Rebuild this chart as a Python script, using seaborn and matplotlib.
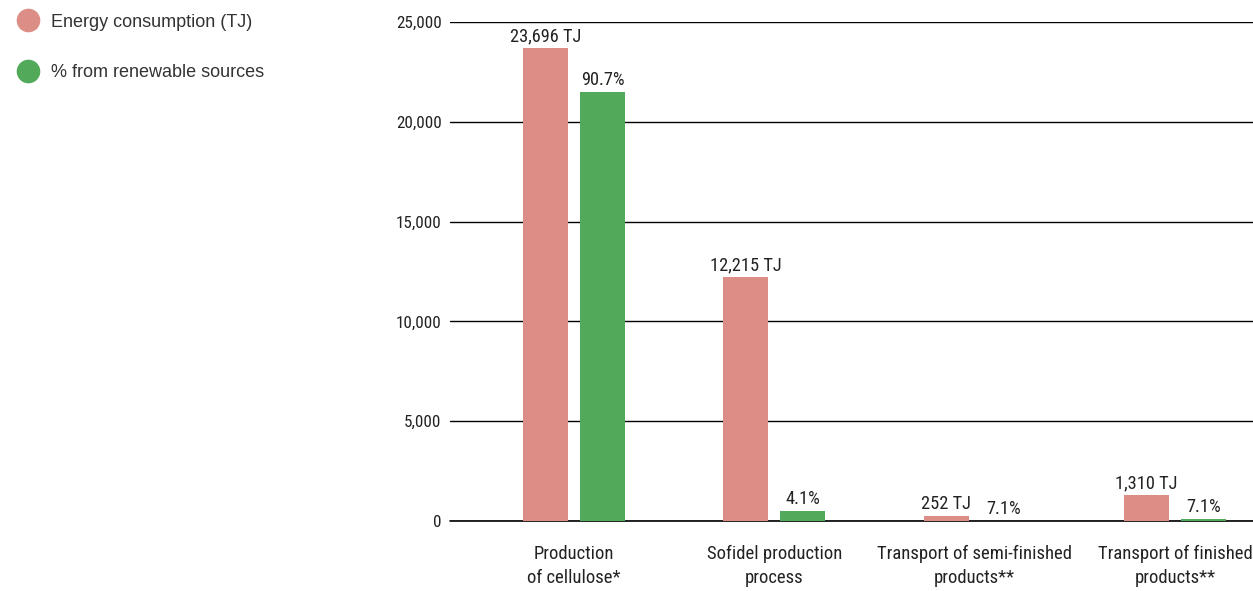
import pandas as pd
import matplotlib.pyplot as plt
from matplotlib.lines import Line2D
import seaborn as sns

# data
categories = ['Production\nof cellulose*', 'Sofidel production\nprocess',
              'Transport of semi-finished\nproducts**', 'Transport of finished\nproducts**']
energy_tj = [23696, 12215, 252, 1310]
renewable_pct = [90.7, 4.1, 7.1, 7.1]
series = ['Energy consumption (TJ)', '% from renewable sources']
colors = ['#DC8E86', '#52A95A']

# green bar = renewable share of the energy consumption
renewable_tj = [e * p / 100 for e, p in zip(energy_tj, renewable_pct)]
df = pd.DataFrame({
    'category': categories * 2,
    'value': energy_tj + renewable_tj,
    'series': [series[0]] * 4 + [series[1]] * 4,
})

sns.set_style('white')
narrow = ['Roboto Condensed', 'Liberation Sans Narrow', 'Roboto', 'DejaVu Sans']
plt.rcParams['font.family'] = narrow

fig = plt.figure(figsize=(12.53, 5.91), dpi=100)
ax = fig.add_axes([450 / 1253, 70 / 591, 1 - 450 / 1253, 499 / 591])

sns.barplot(data=df, x='category', y='value', hue='series', palette=colors,
            width=0.57, gap=0.21, ax=ax, legend=False, saturation=1,
            edgecolor='none', linewidth=0, zorder=3)

ax.set_xlim(-0.62, 3.39)
ax.set_ylim(0, 25000)
ax.set_yticks(range(0, 25001, 5000))
ax.set_yticklabels([f'{v:,}' for v in range(0, 25001, 5000)])
ax.grid(axis='y', color='black', linewidth=1, zorder=1)
ax.set_axisbelow(True)
ax.axhline(0, color='black', linewidth=1.2, clip_on=False, zorder=2)
for s in ax.spines.values():
    s.set_visible(False)
ax.tick_params(axis='y', length=0, pad=6, labelsize=12.3, labelcolor='#222222')
ax.tick_params(axis='x', length=0, pad=17, labelsize=13.4, labelcolor='#222222')
for t in ax.get_xticklabels():
    t.set_linespacing(1.45)
ax.set_xlabel('')
ax.set_ylabel('')

ax.bar_label(ax.containers[0], labels=[f'{v:,} TJ' for v in energy_tj],
             padding=2, fontsize=13.2, color='#222222')
ax.bar_label(ax.containers[1], labels=[f'{p}%' for p in renewable_pct],
             padding=2, fontsize=13.2, color='#222222')

handles = [Line2D([], [], marker='o', linestyle='', markersize=16,
                  markerfacecolor=c, markeredgecolor=c) for c in colors]
leg = fig.legend(handles, series, loc='upper left', bbox_to_anchor=(-0.003, 1.0),
                 frameon=False, labelspacing=1.85, handletextpad=0.3,
                 borderaxespad=0.35,
                 prop={'family': ['Liberation Sans', 'DejaVu Sans'], 'size': 13})
for t in leg.get_texts():
    t.set_color('#333333')

fig.savefig('out.png', dpi=100)
